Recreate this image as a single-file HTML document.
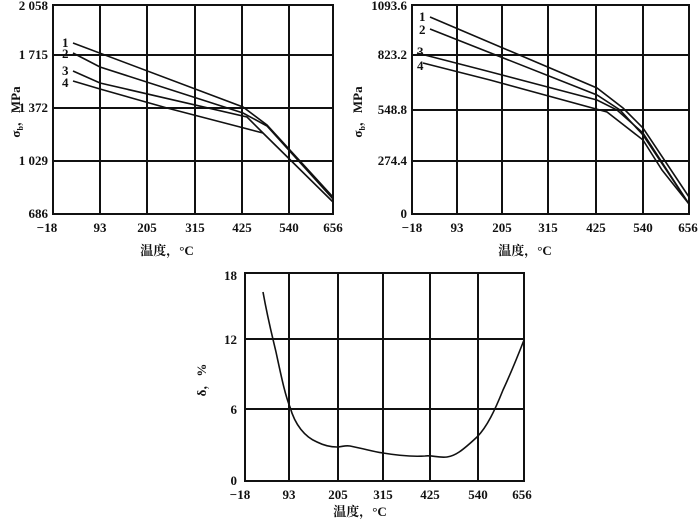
<!DOCTYPE html>
<html><head><meta charset="utf-8"><style>
html,body{margin:0;padding:0;background:#fff;}
svg{display:block;}
text{font-family:"Liberation Serif","Noto Serif CJK SC",serif;font-weight:bold;font-size:13px;fill:#111;}
.g{stroke:#111;stroke-width:2;fill:none;}
.c{stroke:#111;stroke-width:1.6;fill:none;}
</style></head><body>
<svg width="700" height="520" viewBox="0 0 700 520">
<!-- top-left -->
<rect x="53" y="5" width="280" height="209" class="g"/>
<g class="g">
<line x1="100" y1="5" x2="100" y2="214"/><line x1="147" y1="5" x2="147" y2="214"/><line x1="195" y1="5" x2="195" y2="214"/><line x1="242" y1="5" x2="242" y2="214"/><line x1="289" y1="5" x2="289" y2="214"/>
<line x1="53" y1="55" x2="333" y2="55"/><line x1="53" y1="108" x2="333" y2="108"/><line x1="53" y1="161" x2="333" y2="161"/>
</g>
<polyline class="c" points="73,43 243,107 267,125 333,197"/>
<polyline class="c" points="73,53 100,67 243,113 267,126 333,199"/>
<polyline class="c" points="73,71 100,83 247,117 263,133 333,202"/>
<polyline class="c" points="73,81 100,89 167,108 240,127 263,133"/>
<text x="62" y="47">1</text><text x="62" y="58">2</text><text x="62" y="75">3</text><text x="62" y="87">4</text>
<g text-anchor="end"><text x="48" y="10">2 058</text><text x="48" y="59">1 715</text><text x="48" y="112">1 372</text><text x="48" y="165">1 029</text><text x="48" y="218">686</text></g>
<g text-anchor="middle"><text x="47" y="232">−18</text><text x="100" y="232">93</text><text x="147" y="232">205</text><text x="195" y="232">315</text><text x="242" y="232">425</text><text x="289" y="232">540</text><text x="333" y="232">656</text>
<text x="167" y="255" font-size="14">温度，°C</text></g>
<text transform="translate(20,112) rotate(-90)" text-anchor="middle">σ<tspan font-size="8" dy="3">b</tspan><tspan dy="-3">，MPa</tspan></text>
<!-- top-right -->
<rect x="412" y="5" width="277" height="209" class="g"/>
<g class="g">
<line x1="457" y1="5" x2="457" y2="214"/><line x1="502" y1="5" x2="502" y2="214"/><line x1="548" y1="5" x2="548" y2="214"/><line x1="596" y1="5" x2="596" y2="214"/><line x1="643" y1="5" x2="643" y2="214"/>
<line x1="412" y1="55" x2="689" y2="55"/><line x1="412" y1="110" x2="689" y2="110"/><line x1="412" y1="161" x2="689" y2="161"/>
</g>
<polyline class="c" points="430,17 597,88 623,108 643,128 689,197"/>
<polyline class="c" points="430,29 597,95 620,110 643,135 689,204"/>
<polyline class="c" points="417,53 483,70 597,100 617,110 643,133 689,204"/>
<polyline class="c" points="423,63 490,80 607,112 643,140 662,170 689,204"/>
<text x="419" y="21">1</text><text x="419" y="34">2</text><text x="417" y="56">3</text><text x="417" y="70">4</text>
<g text-anchor="end"><text x="407" y="10">1093.6</text><text x="407" y="59">823.2</text><text x="407" y="114">548.8</text><text x="407" y="165">274.4</text><text x="407" y="218">0</text></g>
<g text-anchor="middle"><text x="412" y="232">−18</text><text x="457" y="232">93</text><text x="502" y="232">205</text><text x="548" y="232">315</text><text x="596" y="232">425</text><text x="643" y="232">540</text><text x="688" y="232">656</text>
<text x="525" y="255" font-size="14">温度，°C</text></g>
<text transform="translate(362,112) rotate(-90)" text-anchor="middle">σ<tspan font-size="8" dy="3">b</tspan><tspan dy="-3">，MPa</tspan></text>
<!-- bottom -->
<rect x="245" y="273" width="279" height="208" class="g"/>
<g class="g">
<line x1="289" y1="273" x2="289" y2="481"/><line x1="338" y1="273" x2="338" y2="481"/><line x1="383" y1="273" x2="383" y2="481"/><line x1="430" y1="273" x2="430" y2="481"/><line x1="478" y1="273" x2="478" y2="481"/>
<line x1="245" y1="339" x2="524" y2="339"/><line x1="245" y1="409" x2="524" y2="409"/>
</g>
<path class="c" d="M263,292 C268,320 272,335 276,352 C281,375 285,395 290,407 C295,425 305,437 317,442 C325,446 332,447 337,447 C342,447 345,445 350,446 C365,449 375,452 383,453 C395,455 410,457 425,456 C432,455 438,458 447,457 C455,456 462,451 477,437 C487,427 495,410 503,390 C510,375 517,358 524,340"/>
<g text-anchor="end"><text x="237" y="280">18</text><text x="237" y="344">12</text><text x="237" y="414">6</text><text x="237" y="485">0</text></g>
<g text-anchor="middle"><text x="240" y="499">−18</text><text x="289" y="499">93</text><text x="338" y="499">205</text><text x="383" y="499">315</text><text x="430" y="499">425</text><text x="478" y="499">540</text><text x="522" y="499">656</text>
<text x="360" y="516" font-size="14">温度，°C</text></g>
<text transform="translate(206,380) rotate(-90)" text-anchor="middle">δ，%</text>
</svg>
</body></html>
